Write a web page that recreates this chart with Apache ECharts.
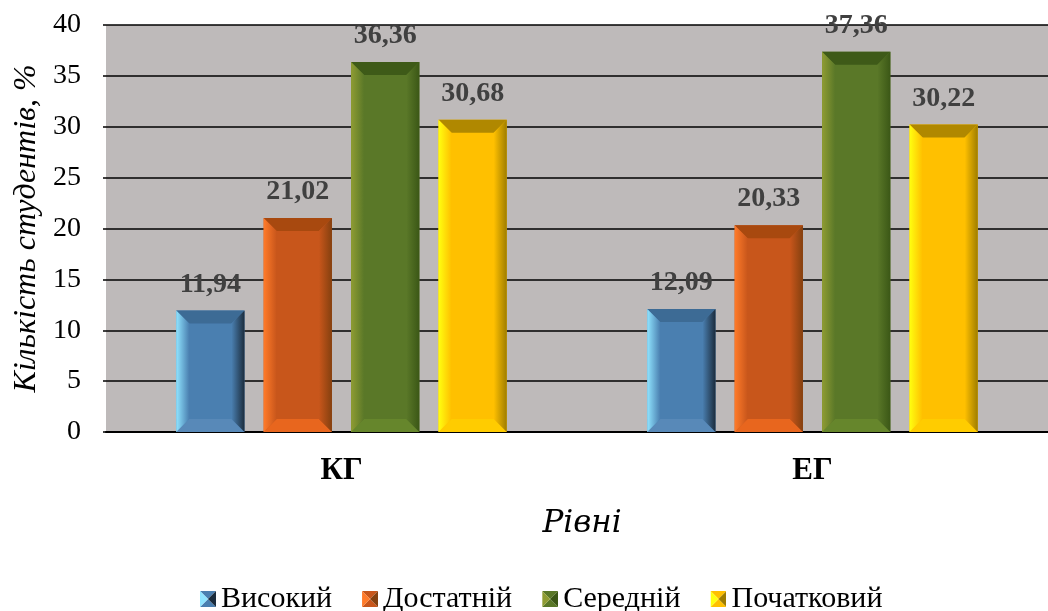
<!DOCTYPE html>
<html>
<head>
<meta charset="utf-8">
<script src="https://cdn.jsdelivr.net/npm/echarts@6/dist/echarts.min.js"></script>
<style>
  html, body { margin: 0; padding: 0; background: #ffffff; }
  #chart { width: 1048px; height: 611px; }
</style>
</head>
<body>
<div id="chart"></div>
<script>
// Groups and levels
const categories = ['КГ', 'ЕГ'];
const levels = ['Високий', 'Достатній', 'Середній', 'Початковий'];

// Share of students per level, %
const vysokyi     = [11.94, 12.09];
const dostatnii   = [21.02, 20.33];
const serednii    = [36.36, 37.36];
const pochatkovyi = [30.68, 30.22];

const yTicks = { min: 0, max: 40, interval: 5 };

// Bevel palettes: face, left, right, top, bottom
const palettes = [
  { face: '#4a7fb0', left: '#90e4ff', right: '#1b2c3d', top: '#3d6b95', bottom: '#5889b8' },
  { face: '#c8561b', left: '#ff7b2a', right: '#84400f', top: '#a8490f', bottom: '#e8661e' },
  { face: '#5a7828', left: '#8f9c33', right: '#3b5716', top: '#3e5a18', bottom: '#66862c' },
  { face: '#ffc000', left: '#ffff10', right: '#9e7d00', top: '#b08800', bottom: '#ffcc00' }
];

const seriesValues = [vysokyi, dostatnii, serednii, pochatkovyi];

const BAR_RATIO = 0.145;
const GAP_RATIO = 0.28;
const BEVEL = 13;
const SERIF = '"Liberation Serif", "Times New Roman", serif';

function fmt(v) { return v.toFixed(2).replace('.', ','); }

// Small bevelled square used as the legend marker
function legendIcon(p) {
  const svg = '<svg xmlns="http://www.w3.org/2000/svg" width="16" height="16">' +
    '<polygon points="0,0 16,0 8,8" fill="' + p.face + '"/>' +
    '<polygon points="0,16 16,16 8,8" fill="' + p.face + '"/>' +
    '<polygon points="0,0 8,8 0,16" fill="' + p.left + '"/>' +
    '<polygon points="16,0 8,8 16,16" fill="' + p.right + '"/>' +
    '</svg>';
  return 'image://data:image/svg+xml;charset=utf-8,' + encodeURIComponent(svg);
}

function renderItem(params, api) {
  const cat = api.value(0);
  const val = api.value(1);
  const topPt = api.coord([cat, val]);
  const basePt = api.coord([cat, 0]);
  const band = api.size([1, 0])[0];
  const w = band * BAR_RATIO;
  const gap = w * GAP_RATIO;
  const i = params.seriesIndex;
  const cx = topPt[0] + (i - 1.5) * (w + gap);
  const x0 = cx - w / 2, x1 = cx + w / 2;
  const y0 = topPt[1], y1 = basePt[1];
  const b = Math.min(BEVEL, (y1 - y0) / 2, w / 2);
  const p = palettes[i];
  const poly = (pts, fill) => ({ type: 'polygon', shape: { points: pts }, style: { fill: fill } });
  return {
    type: 'group',
    children: [
      poly([[x0, y0], [x1, y0], [x1, y1], [x0, y1]], p.face),
      poly([[x0, y0], [x1, y0], [x1 - b, y0 + b], [x0 + b, y0 + b]], p.top),
      poly([[x0, y1], [x1, y1], [x1 - b, y1 - b], [x0 + b, y1 - b]], p.bottom),
      {
        type: 'polygon',
        shape: { points: [[x0, y0], [x0 + b, y0 + b], [x0 + b, y1 - b], [x0, y1]] },
        style: { fill: new echarts.graphic.LinearGradient(0, 0, 1, 0, [
          { offset: 0, color: p.left }, { offset: 1, color: p.face }
        ]) }
      },
      {
        type: 'polygon',
        shape: { points: [[x1, y0], [x1 - b, y0 + b], [x1 - b, y1 - b], [x1, y1]] },
        style: { fill: new echarts.graphic.LinearGradient(0, 0, 1, 0, [
          { offset: 0, color: p.face }, { offset: 1, color: p.right }
        ]) }
      },
      {
        type: 'text',
        style: {
          text: fmt(val),
          x: cx, y: y0 - 12,
          align: 'center', verticalAlign: 'bottom',
          font: 'bold 28px ' + SERIF,
          fill: '#404040'
        }
      }
    ]
  };
}

const series = levels.map((name, i) => ({
  name: name,
  type: 'custom',
  renderItem: renderItem,
  encode: { x: 0, y: 1 },
  itemStyle: { color: palettes[i].face },
  data: seriesValues[i].map((v, c) => [c, v])
}));

const chart = echarts.init(document.getElementById('chart'));
chart.setOption({
  animation: false,
  grid: {
    left: 106, right: 0, top: 25, bottom: 179,
    outerBoundsMode: 'none', containLabel: false,
    show: true, backgroundColor: '#bebaba', borderWidth: 0
  },
  legend: {
    data: levels.map((name, i) => ({ name: name, icon: legendIcon(palettes[i]) })),
    left: 195,
    top: 578,
    itemWidth: 16,
    itemHeight: 16,
    itemGap: 30,
    textStyle: { fontFamily: SERIF, fontSize: 30, color: '#000', lineHeight: 32 }
  },
  xAxis: {
    type: 'category',
    data: categories,
    name: 'Рівні',
    nameLocation: 'middle',
    nameGap: 76,
    nameTextStyle: { fontFamily: '"DejaVu Serif", "Liberation Serif", serif', fontStyle: 'italic', fontSize: 31, color: '#000', padding: [0, 0, 0, 10] },
    axisLine: { lineStyle: { color: '#000', width: 2 } },
    axisTick: { show: false },
    axisLabel: { margin: 23, fontFamily: SERIF, fontWeight: 'bold', fontSize: 31, color: '#000' }
  },
  yAxis: {
    type: 'value',
    min: yTicks.min, max: yTicks.max, interval: yTicks.interval,
    name: 'Кількість студентів, %',
    nameLocation: 'middle',
    nameGap: 62,
    nameRotate: 90,
    nameTextStyle: { fontFamily: SERIF, fontStyle: 'italic', fontSize: 32, color: '#000' },
    axisLine: { show: false },
    axisTick: { show: true, length: 3, lineStyle: { color: '#000', width: 1.5 } },
    axisLabel: { margin: 25, fontFamily: SERIF, fontSize: 28, color: '#000' },
    splitLine: { lineStyle: { color: '#000', width: 1.5 } }
  },
  series: series
});
</script>
</body>
</html>
